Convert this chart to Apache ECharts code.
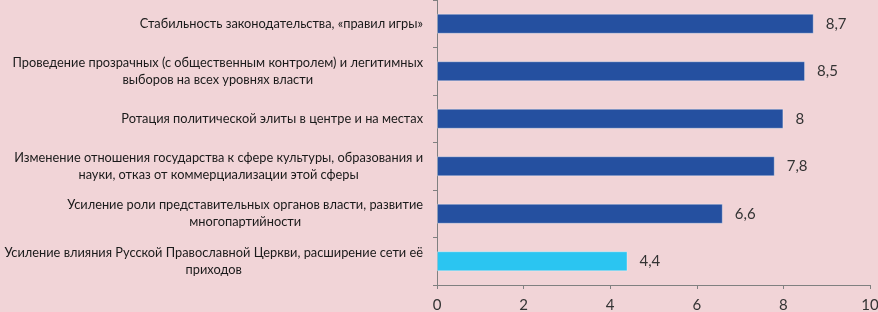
<!DOCTYPE html>
<html>
<head>
<meta charset="utf-8">
<script src="https://cdn.jsdelivr.net/npm/echarts@6/dist/echarts.min.js"></script>
<style>
  html, body { margin: 0; padding: 0; background: #F1D4D7; }
  #chart { width: 878px; height: 312px; }
</style>
</head>
<body>
<div id="chart"></div>
<script>
const categories = [
  'Стабильность законодательства, «правил игры»',
  'Проведение прозрачных (с общественным контролем) и легитимных\nвыборов на всех уровнях власти',
  'Ротация политической элиты в центре и на местах',
  'Изменение отношения государства к сфере культуры, образования и\nнауки, отказ от коммерциализации этой сферы',
  'Усиление роли представительных органов власти, развитие\nмногопартийности',
  'Усиление влияния Русской Православной Церкви, расширение сети её\nприходов'
]
const values = [8.7, 8.5, 8, 7.8, 6.6, 4.4]
const highlighted = [false, false, false, false, false, true]
const xTicks = [0, 2, 4, 6, 8, 10]

const chart = echarts.init(document.getElementById('chart'))

const option = {
  backgroundColor: '#F1D4D7',
  animation: false,
  textStyle: {fontFamily: 'Lato'},
  grid: {
    top: 0,
    left: 437,
    right: 8,
    bottom: 27,
    outerBoundsMode: 'none'
  },
  xAxis: {
    type: 'value',
    min: xTicks[0],
    max: xTicks[xTicks.length - 1],
    interval: 2,
    splitLine: {show: false},
    axisLine: {show: true, lineStyle: {color: '#808080'}},
    axisTick: {show: true, length: 4, lineStyle: {color: '#808080'}},
    axisLabel: {
      color: '#333',
      fontSize: 15,
      margin: 13
    }
  },
  yAxis: {
    type: 'category',
    inverse: true,
    data: categories,
    axisLine: {show: true, lineStyle: {color: '#808080'}},
    axisTick: {show: true, length: 4, lineStyle: {color: '#808080'}},
    axisLabel: {
      margin: 14,
      align: 'right',
      formatter: (v) => v.split('\n').map(l => '{c|' + l + '}').join('\n'),
      rich: {
        c: {
          align: 'center',
          color: '#1a1a1a',
          fontSize: 12.8,
          fontFamily: 'Lato',
          lineHeight: 17
        }
      }
    }
  },
  series: [
    {
      type: 'bar',
      barWidth: 20,
      data: values.map((v, i) => ({
        value: v,
        itemStyle: {color: highlighted[i] ? '#2BC5F1' : '#2550A0'}
      })),
      itemStyle: {
        borderColor: 'rgba(255,255,255,0.35)',
        borderWidth: 1
      },
      label: {
        show: true,
        position: 'right',
        distance: 12,
        color: '#333',
        fontSize: 15,
        fontFamily: 'Lato',
        formatter: (p) => String(p.value).replace('.', ',')
      }
    }
  ]
}

chart.setOption(option)
</script>
</body>
</html>
